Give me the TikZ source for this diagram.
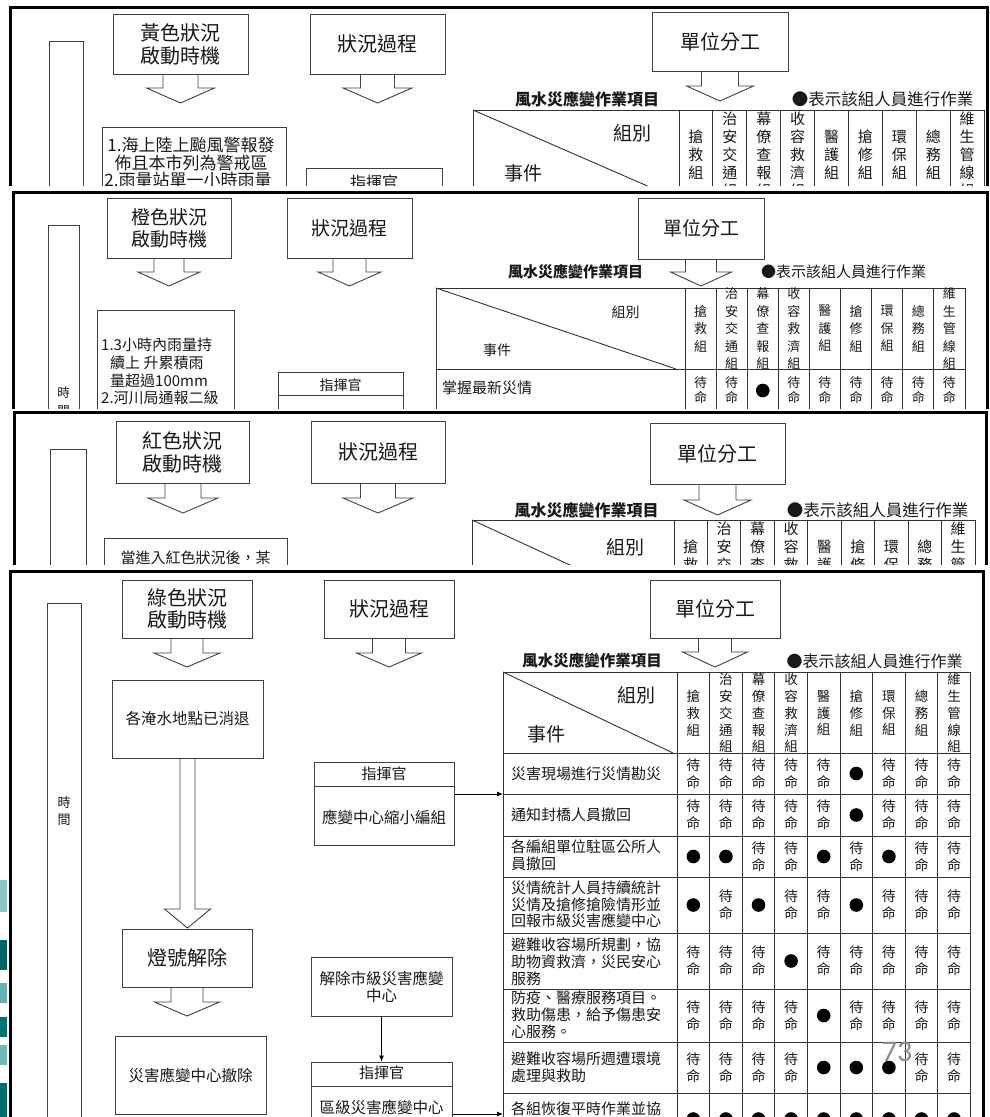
\documentclass[tikz,border=0pt]{standalone}
\usepackage{fontspec}
\setmainfont{Noto Sans CJK TC}
\newfontfamily\pnfont{Carlito}
\usetikzlibrary{arrows.meta}
\newcommand\fsz[2]{\fontsize{#1pt}{#2pt}\selectfont}
\newcommand\harrow[6]{\draw[ln,line join=miter] ({#1-#3},#2) -- ({#1-#3},#5) -- ({#1-#4},#5) -- (#1,#6) -- ({#1+#4},#5) -- ({#1+#3},#5) -- ({#1+#3},#2);}
\newcommand\heads[5]{%
 \foreach \t [count=\i] in {{搶\\救\\組},{治\\安\\交\\通\\組},{幕\\僚\\查\\報\\組},{收\\容\\救\\濟\\組},{醫\\護\\組},{搶\\修\\組},{環\\保\\組},{總\\務\\組},{維\\生\\管\\線\\組}}
 {\node[tx,font=#4] (#5h\i) at ({#1+(\i-0.5)*#2},#3) {\t};}}
% top part of the headers only (for a panel cut off just below them)
\newcommand\headstop[4]{%
 \foreach \t/\o [count=\i] in {{搶\\救}/18,{治\\安\\交}/0,{幕\\僚\\查}/0,{收\\容\\救}/0,{醫\\護}/18,{搶\\修}/18,{環\\保}/18,{總\\務}/18,{維\\生\\管}/0}
 {\node[tx,font=#4,anchor=north] (p3h\i) at ({#1+(\i-0.5)*#2},{#3+\o}) {\t};}}
\newcommand\cellrow[6]{%
 \foreach \v [count=\i] in {#6} {%
  \ifnum\v=1
   \fill[black] ({#2+(\i-0.5)*#3},#4) circle (6.8pt);
  \else
   \node[tx,font=#5] (#1c\i) at ({#2+(\i-0.5)*#3},#4) {待\\命};
  \fi}}
\begin{document}
\begin{tikzpicture}[x=1pt,y=-1pt,
 bx/.style={draw=black!75,line width=0.9pt,inner sep=0pt,align=center,text=black!90},
 tx/.style={inner sep=0pt,align=center,text=black!90},
 frm/.style={draw=black,line width=3pt},
 ln/.style={draw=black!75,line width=0.9pt},
 tl/.style={draw=black!80,line width=0.9pt},
 conn/.style={draw=black,line width=0.8pt,-{Latex[length=6pt,width=5pt]}}]
\fill[white] (0,0) rectangle (990,1117);
\useasboundingbox (0,0) rectangle (990,1117);

%================ Panel 1 (yellow) ================
\begin{scope}
\clip (0,0) rectangle (990,185.5);
\draw[frm] (10,7) rectangle (987,300);
\draw[ln] (49,41) rectangle (83,300);
\node[bx,minimum width=135pt,minimum height=60pt,font=\fsz{20}{23}] (p1a) at (180.5,44) {黃色狀況\\啟動時機};
\harrow{180.5}{74}{17.5}{34}{88}{103}
\node[bx,minimum width=135pt,minimum height=60pt,font=\fsz{20}{23}] (p1b) at (377.5,44) {狀況過程};
\harrow{377.5}{74}{17}{34.5}{88}{103}
\node[bx,minimum width=136pt,minimum height=59pt,font=\fsz{20}{23}] (p1c) at (720,41.5) {單位分工};
\harrow{720}{71}{18.5}{33.5}{86}{101}
\node[tx,font=\fsz{16}{18}\bfseries] (p1t) at (587,99) {風水災應變作業項目};
\node[tx,font=\fsz{16.5}{18}] (p1g) at (882.5,99) {●表示該組人員進行作業};
\draw[tl] (473,110) rectangle (984,300);
\foreach \k in {0,...,8} \draw[tl] ({679+\k*33.9},110) -- ({679+\k*33.9},300);
\draw[tl] (473,110) -- (675,198);
\node[tx,font=\fsz{19}{22}] (p1z) at (632,133) {組別};
\node[tx,font=\fsz{19}{22}] (p1e) at (523,173) {事件};
\heads{679}{33.9}{155}{\fsz{15}{18}}{p1}
\node[bx,minimum width=184pt,minimum height=173pt] (p1x) at (194,213.5) {};
\node[tx,font=\fsz{17}{18}] (p1x1) at (191,145) {1.海上陸上颱風警報發};
\node[tx,font=\fsz{17}{18}] (p1x2) at (191,163) {佈且本市列為警戒區};
\node[tx,font=\fsz{17}{18}] (p1x3) at (188,180) {2.雨量站單一小時雨量};
\node[bx,minimum width=136pt,minimum height=132pt] (p1k) at (374,234) {};
\node[tx,font=\fsz{16}{18}] (p1kt) at (374,182) {指揮官};
\end{scope}

%================ Panel 2 (orange) ================
\begin{scope}
\clip (0,190) rectangle (990,408.5);
\draw[frm] (13,192) rectangle (987,500);
\draw[ln] (48,225) rectangle (79,500);
\node[tx,font=\fsz{12.5}{14}] (p2s1) at (63.5,393) {時};
\node[tx,font=\fsz{12.5}{14}] (p2s2) at (63.5,411) {間};
\node[bx,minimum width=124pt,minimum height=60pt,font=\fsz{19}{22}] (p2a) at (169,228) {橙色狀況\\啟動時機};
\harrow{169}{258}{15}{31}{272}{286}
\node[bx,minimum width=125pt,minimum height=60pt,font=\fsz{19}{22}] (p2b) at (349.5,228) {狀況過程};
\harrow{349.5}{258}{16.5}{31.5}{272}{286}
\node[bx,minimum width=126pt,minimum height=61pt,font=\fsz{19}{22}] (p2c) at (701,228.5) {單位分工};
\harrow{701}{259}{15.5}{30.5}{272}{286}
\node[tx,font=\fsz{15}{17}\bfseries] (p2t) at (575.5,272) {風水災應變作業項目};
\node[tx,font=\fsz{15}{17}] (p2g) at (843.5,272) {●表示該組人員進行作業};
\draw[tl] (436,288) rectangle (965,500);
\foreach \k in {0,...,8} \draw[tl] ({685+\k*31.1},288) -- ({685+\k*31.1},500);
\draw[tl] (436,369) -- (965,369);
\draw[tl] (436,288) -- (676,369);
\node[tx,font=\fsz{14}{16}] (p2z) at (625.5,312) {組別};
\node[tx,font=\fsz{14}{16}] (p2e) at (497,350) {事件};
\heads{685}{31.1}{328.5}{\fsz{13}{17.5}}{p2}
\node[tx,anchor=west,font=\fsz{15}{17}] (p2r1) at (442,388) {掌握最新災情};
\cellrow{p2r1}{685}{31.1}{390.5}{\fsz{13}{15}}{0,0,1,0,0,0,0,0,0}
\node[bx,minimum width=137pt,minimum height=190pt] (p2x) at (165.5,405) {};
\node[tx,anchor=west,font=\fsz{15}{17}] (p2x1) at (101,345) {1.3小時內雨量持};
\node[tx,anchor=west,font=\fsz{15}{17}] (p2x2) at (110,363) {續上 升累積雨};
\node[tx,anchor=west,font=\fsz{15}{17}] (p2x3) at (110,381) {量超過100mm};
\node[tx,anchor=west,font=\fsz{15}{17}] (p2x4) at (101,398) {2.河川局通報二級};
\node[bx,minimum width=125pt,minimum height=128pt] (p2k) at (340.5,436) {};
\draw[ln] (p2k.west |- 0,395) -- (p2k.east |- 0,395);
\node[tx,font=\fsz{14}{16}] (p2kt) at (340.5,385) {指揮官};
\end{scope}

%================ Panel 3 (red) ================
\begin{scope}
\clip (0,410) rectangle (990,564.5);
\draw[frm] (14,412) rectangle (986,700);
\draw[ln] (50,449) rectangle (86,700);
\node[bx,minimum width=133pt,minimum height=62pt,font=\fsz{20}{23}] (p3a) at (182.5,452) {紅色狀況\\啟動時機};
\harrow{183}{483}{18}{35}{498}{513}
\node[bx,minimum width=134pt,minimum height=62pt,font=\fsz{20}{23}] (p3b) at (378,452) {狀況過程};
\harrow{378}{483}{17.5}{35}{498}{513}
\node[bx,minimum width=135pt,minimum height=61pt,font=\fsz{20}{23}] (p3c) at (717.5,453.5) {單位分工};
\harrow{717.5}{484}{18.5}{33.5}{500}{515}
\node[tx,font=\fsz{16}{18}\bfseries] (p3t) at (586.5,510) {風水災應變作業項目};
\node[tx,font=\fsz{16.5}{18}] (p3g) at (877.5,510) {●表示該組人員進行作業};
\draw[tl] (472,520) rectangle (975,700);
\foreach \k in {0,...,8} \draw[tl] ({674+\k*33.44},520) -- ({674+\k*33.44},700);
\draw[tl] (472,520) -- (670,611);
\node[tx,font=\fsz{19}{22}] (p3z) at (625,547) {組別};
\headstop{674}{33.44}{522}{\fsz{15}{18}}
\node[bx,minimum width=183pt,minimum height=162pt] (p3x) at (195.5,619) {};
\node[tx,font=\fsz{15}{17}] (p3x1) at (195.5,558) {當進入紅色狀況後，某};
\end{scope}

%================ Panel 4 (green) ================
\begin{scope}
\clip (0,569) rectangle (990,1117);
\draw[frm] (10,571) rectangle (983,1200);
\draw[ln] (47,603) rectangle (81,1200);
\node[tx,font=\fsz{13}{15}] (p4s1) at (64,803) {時};
\node[tx,font=\fsz{13}{15}] (p4s2) at (64,820) {間};
\node[bx,minimum width=130pt,minimum height=58pt,font=\fsz{20}{22}] (p4a) at (187,609) {綠色狀況\\啟動時機};
\harrow{187}{638}{16}{33}{653}{667}
\node[bx,minimum width=130pt,minimum height=58pt,font=\fsz{20}{22}] (p4b) at (389,609) {狀況過程};
\harrow{389}{638}{16.5}{32.5}{653}{667}
\node[bx,minimum width=130pt,minimum height=58pt,font=\fsz{20}{22}] (p4c) at (715,609) {單位分工};
\harrow{715}{638}{16.5}{32.5}{652}{667}
\node[bx,minimum width=151pt,minimum height=78pt,font=\fsz{15.5}{17}] (p4d) at (187.5,719) {各淹水地點已消退};
\harrow{187.5}{758}{7.5}{23}{909}{928}
\node[bx,minimum width=130pt,minimum height=58pt,font=\fsz{20}{22}] (p4e) at (187,958) {燈號解除};
\harrow{187}{987}{16}{32.5}{1002}{1016}
\node[bx,minimum width=151pt,minimum height=78pt,font=\fsz{15.5}{17}] (p4f) at (190.5,1075) {災害應變中心撤除};
% commander box 1
\node[bx,minimum width=140pt,minimum height=83pt] (p4k1) at (384,803.5) {};
\draw[ln] (p4k1.west |- 0,786) -- (p4k1.east |- 0,786);
\node[tx,font=\fsz{15}{17}] (p4k1t) at (384,774) {指揮官};
\node[tx,font=\fsz{15.5}{17}] (p4k1b) at (384,817) {應變中心縮小編組};
% release box
\node[bx,minimum width=141pt,minimum height=59pt,font=\fsz{15.5}{17}] (p4g) at (381.5,986.5) {解除市級災害應變\\中心};
% commander box 2
\node[bx,minimum width=141pt,minimum height=88pt] (p4k2) at (381.5,1106) {};
\draw[ln] (p4k2.west |- 0,1086) -- (p4k2.east |- 0,1086);
\node[tx,font=\fsz{15}{17}] (p4k2t) at (381.5,1073) {指揮官};
\node[tx,font=\fsz{15.5}{17}] (p4k2b) at (381.5,1107) {區級災害應變中心};
% titles
\node[tx,font=\fsz{15.5}{17}\bfseries] (p4t) at (592,661) {風水災應變作業項目};
\node[tx,font=\fsz{16}{17}] (p4lg) at (874.5,661) {●表示該組人員進行作業};
% table
\draw[tl] (503,672) rectangle (970,1200);
\foreach \k in {0,...,8} \draw[tl] ({677+\k*32.6},672) -- ({677+\k*32.6},1200);
\foreach \yy in {753,794,836,877,933,989,1042,1093,1150} \draw[tl] (503,\yy) -- (970,\yy);
\draw[tl] (503,672) -- (673,753);
\node[tx,font=\fsz{19}{22}] (p4z) at (636.5,695) {組別};
\node[tx,font=\fsz{19}{22}] (p4ev) at (546,734) {事件};
\heads{677}{32.6}{713}{\fsz{13.5}{16.8}}{p4}
% connectors
\coordinate (p4in1) at (503,794);
\coordinate (p4in2) at (503,1114);
\draw[conn] (p4k1.east |- p4in1) -- (p4in1);
\draw[conn] (p4g.south) -- (p4k2.north);
\draw[conn] (p4k2.east |- p4in2) -- (p4in2);
% event rows
\begin{scope}[every node/.style={tx,anchor=west,align=left,font=\fsz{15}{16.8}}]
\node (p4e1) at (511,773.5) {災害現場進行災情勘災};
\node (p4e2) at (511,815) {通知封橋人員撤回};
\node (p4e3) at (511,855.5) {各編組單位駐區公所人\\員撤回};
\node (p4e4) at (511,904.5) {災情統計人員持續統計\\災情及搶修搶險情形並\\回報市級災害應變中心};
\node (p4e5) at (511,961.5) {避難收容場所規劃，協\\助物資救濟，災民安心\\服務};
\node (p4e6) at (511,1015) {防疫、醫療服務項目。\\救助傷患，給予傷患安\\心服務。};
\node (p4e7) at (511,1067) {避難收容場所週遭環境\\處理與救助};
\node (p4e8) at (511,1109) {各組恢復平時作業並協};
\end{scope}
\cellrow{p4r1}{677}{32.6}{773.5}{\fsz{14}{17}}{0,0,0,0,0,1,0,0,0}
\cellrow{p4r2}{677}{32.6}{815}{\fsz{14}{17}}{0,0,0,0,0,1,0,0,0}
\cellrow{p4r3}{677}{32.6}{856.5}{\fsz{14}{17}}{1,1,0,0,1,0,1,0,0}
\cellrow{p4r4}{677}{32.6}{905}{\fsz{14}{17}}{1,0,1,0,0,1,0,0,0}
\cellrow{p4r5}{677}{32.6}{961}{\fsz{14}{17}}{0,0,0,1,0,0,0,0,0}
\cellrow{p4r6}{677}{32.6}{1015.5}{\fsz{14}{17}}{0,0,0,0,1,0,0,0,0}
\cellrow{p4r7}{677}{32.6}{1067.5}{\fsz{14}{17}}{0,0,0,0,1,1,1,0,0}
\cellrow{p4r8}{677}{32.6}{1119}{\fsz{14}{17}}{1,1,1,1,1,1,1,1,1}
\node[text=black!45,inner sep=0pt,font=\pnfont\fsz{30}{32}] (p4pg) at (897,1052) {73};
\end{scope}

% stray slide decoration at far left
\fill[teal!45] (0,880) rectangle (7,912);
\fill[teal!80!black] (0,940) rectangle (7,970);
\fill[teal!60] (0,983) rectangle (7,1003);
\fill[teal!90!black] (0,1017) rectangle (7,1037);
\fill[teal!55] (0,1045) rectangle (7,1065);
\fill[teal!85!black] (0,1083) rectangle (7,1117);
\end{tikzpicture}
\end{document}
